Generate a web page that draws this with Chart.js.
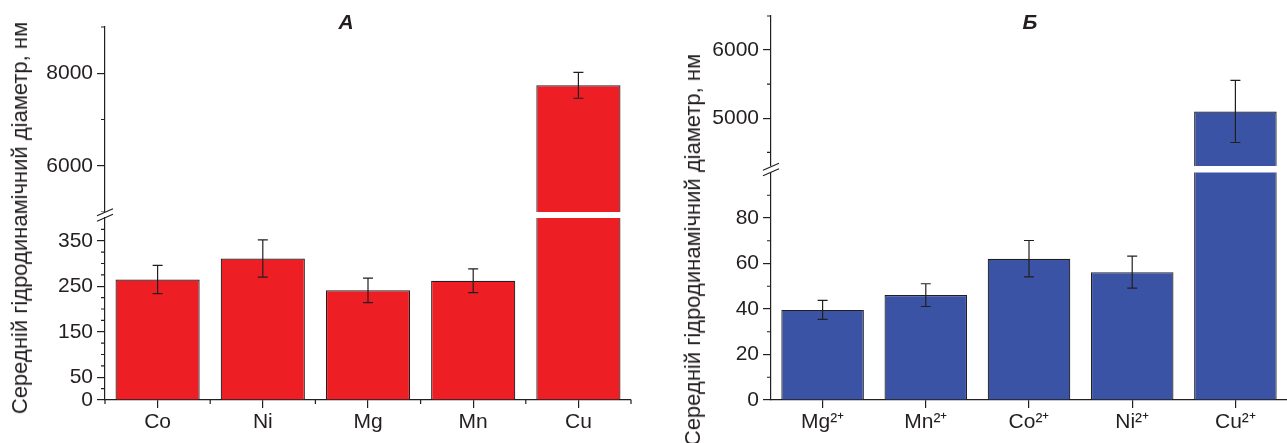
<!DOCTYPE html>
<html>
<head>
<meta charset="utf-8">
<script src="https://cdn.jsdelivr.net/npm/chart.js@4.4.0/dist/chart.umd.min.js"></script>
<style>
  html, body { margin: 0; padding: 0; background: #fff; }
  #page { position: relative; width: 1287px; height: 443px; overflow: hidden;
          font-family: 'Liberation Sans', Arial, sans-serif; color: #231f20; }
  .box { position: absolute; }
  .ytitle { position: absolute; white-space: nowrap; font-size: 22px;
            transform: translate(-50%, -50%) rotate(-90deg); }
  .ptitle { position: absolute; font-size: 21px; font-weight: bold; font-style: italic;
            transform: translate(-50%, -50%); }
</style>
</head>
<body>
<div id="page">
  <div class="box" style="left:0;top:0;width:640px;height:212px"><canvas id="aTop"></canvas></div>
  <div class="box" style="left:0;top:200px;width:640px;height:243px"><canvas id="aBot"></canvas></div>
  <div class="box" style="left:660px;top:0;width:627px;height:166px"><canvas id="bTop"></canvas></div>
  <div class="box" style="left:660px;top:155px;width:627px;height:288px"><canvas id="bBot"></canvas></div>
  <div class="ytitle" style="left:20px;top:218px">Середній гідродинамічний діаметр, нм</div>
  <div class="ytitle" style="left:693px;top:250px">Середній гідродинамічний діаметр, нм</div>
  <div class="ptitle" style="left:346px;top:22px">А</div>
  <div class="ptitle" style="left:1030px;top:22px">Б</div>
</div>
<script>
// panel А — metal ions, mean hydrodynamic diameter (nm)
const catsA = ['Co', 'Ni', 'Mg', 'Mn', 'Cu'];
const valsA = [265, 311, 241, 262, 7740];
const errsA = [31, 41, 27, 26, 280];

// panel Б
const catsB = ['Mg²⁺', 'Mn²⁺', 'Co²⁺', 'Ni²⁺', 'Cu²⁺'];
const valsB = [39.6, 46.1, 62.1, 56.2, 5100];
const errsB = [4.2, 5, 8, 7, 455];

// tick values (labelled / unlabelled)
const ticksATop = [6000, 8000];
const minorATop = [5000, 7000, 9000];
const ticksABot = [0, 50, 150, 250, 350];
const minorABot = [25, 75, 100, 125, 175, 200, 225, 275, 300, 325, 375];
const edgesA = [-0.5, 0.5, 1.5, 2.5, 3.5, 4.5];
const ticksBTop = [5000, 6000];
const minorBTop = [4500, 5500, 6500];
const ticksBBot = [0, 20, 40, 60, 80];
const minorBBot = [10, 30, 50, 70, 90];

const INK = '#231f20';
Chart.defaults.font.family = "'Liberation Sans', Arial, sans-serif";
Chart.defaults.color = INK;

const errorBars = {
  id: 'errorBars',
  afterDatasetsDraw(chart, args, opts) {
    const { ctx, chartArea: a } = chart;
    const y = chart.scales.y;
    const vals = chart.data.datasets[0].data;
    ctx.save();
    ctx.beginPath();
    ctx.rect(a.left, a.top - 1, a.right - a.left, a.bottom - a.top + 2);
    ctx.clip();
    ctx.strokeStyle = INK;
    ctx.lineWidth = 1.2;
    chart.getDatasetMeta(0).data.forEach((bar, i) => {
      const hi = y.getPixelForValue(vals[i] + opts.errs[i]);
      const lo = y.getPixelForValue(vals[i] - opts.errs[i]);
      ctx.beginPath();
      ctx.moveTo(bar.x, hi); ctx.lineTo(bar.x, lo);
      ctx.moveTo(bar.x - 5, hi); ctx.lineTo(bar.x + 5, hi);
      ctx.moveTo(bar.x - 5, lo); ctx.lineTo(bar.x + 5, lo);
      ctx.stroke();
    });
    ctx.restore();
  }
};

const minorTicks = {
  id: 'minorTicks',
  afterDraw(chart, args, opts) {
    const { ctx, chartArea: a, scales } = chart;
    ctx.save();
    ctx.strokeStyle = INK;
    ctx.lineWidth = 1.2;
    ctx.beginPath();
    (opts.y || []).forEach(v => {
      const p = scales.y.getPixelForValue(v);
      ctx.moveTo(a.left - 4, p); ctx.lineTo(a.left, p);
    });
    (opts.x || []).forEach(v => {
      const p = scales.x.getPixelForValue(v);
      ctx.moveTo(p, a.bottom); ctx.lineTo(p, a.bottom + 4);
    });
    ctx.stroke();
    ctx.restore();
  }
};

const axisBreak = {
  id: 'axisBreak',
  afterDraw(chart, args, opts) {
    if (!opts.show) return;
    const { ctx, chartArea: a } = chart;
    const yc = a.top - 3;
    ctx.save();
    ctx.strokeStyle = INK;
    ctx.lineWidth = 1.2;
    ctx.beginPath();
    [-2.7, 2.7].forEach(d => {
      ctx.moveTo(a.left - 8, yc + d + 3.5);
      ctx.lineTo(a.left + 8, yc + d - 3.5);
    });
    ctx.stroke();
    ctx.restore();
  }
};

function makeChart(id, p) {
  return new Chart(document.getElementById(id), {
    type: 'bar',
    data: {
      labels: p.cats,
      datasets: [{
        data: p.vals,
        backgroundColor: p.color,
        borderColor: INK,
        borderWidth: 1.2,
        barPercentage: 0.8,
        categoryPercentage: 1,
        clip: 0
      }]
    },
    options: {
      responsive: true,
      maintainAspectRatio: false,
      animation: false,
      layout: { padding: { top: p.padTop, right: p.padRight, left: 0, bottom: 0 } },
      plugins: {
        legend: { display: false },
        tooltip: { enabled: false },
        errorBars: { errs: p.errs },
        minorTicks: { y: p.minorY, x: p.minorX },
        axisBreak: { show: p.breakMark }
      },
      scales: {
        x: {
          display: p.showX,
          offset: true,
          grid: { offset: false, drawOnChartArea: false, tickLength: 8, color: INK, lineWidth: 1.2 },
          border: { color: INK, width: 1.2 },
          ticks: { padding: 2, font: { size: 21 }, maxRotation: 0 },
          afterFit: s => { s.height = p.showX ? 43 : 0; s.paddingLeft = 0; s.paddingRight = 0; }
        },
        y: {
          min: p.yMin,
          max: p.yMax,
          grid: { drawOnChartArea: false, tickLength: 8, color: INK, lineWidth: 1.2 },
          border: { color: INK, width: 1.2 },
          ticks: { padding: 4, font: { size: 21 }, callback: v => String(v) },
          afterBuildTicks: s => { s.ticks = p.majorY.map(v => ({ value: v })); },
          afterFit: s => { s.width = p.yWidth; s.paddingTop = 0; s.paddingBottom = 0; }
        }
      }
    },
    plugins: [errorBars, minorTicks, axisBreak]
  });
}

const RED = '#ed1f24';
const BLUE = '#3a53a4';

makeChart('aTop', { cats: catsA, vals: valsA, errs: errsA, color: RED, yMin: 5000, yMax: 9000,
  majorY: ticksATop, minorY: minorATop, showX: false, padTop: 27, padRight: 9, yWidth: 105, breakMark: false });
makeChart('aBot', { cats: catsA, vals: valsA, errs: errsA, color: RED, yMin: 0, yMax: 400,
  majorY: ticksABot, minorY: minorABot, minorX: edgesA, showX: true, padTop: 18, padRight: 9, yWidth: 105, breakMark: true });
makeChart('bTop', { cats: catsB, vals: valsB, errs: errsB, color: BLUE, yMin: 4300, yMax: 6500,
  majorY: ticksBTop, minorY: minorBTop, showX: false, padTop: 16, padRight: 0, yWidth: 111, breakMark: false });
makeChart('bBot', { cats: catsB, vals: valsB, errs: errsB, color: BLUE, yMin: 0, yMax: 100,
  majorY: ticksBBot, minorY: minorBBot, showX: true, padTop: 17.5, padRight: 0, yWidth: 111, breakMark: true });
</script>
</body>
</html>
